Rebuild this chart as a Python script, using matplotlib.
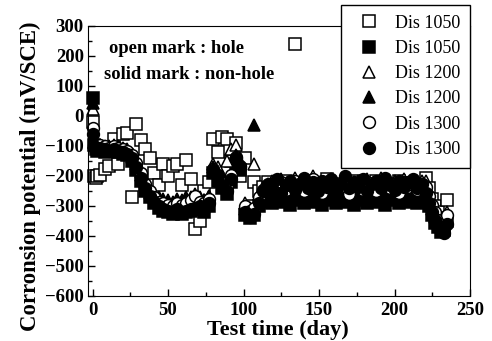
import matplotlib
matplotlib.use("Agg")
import matplotlib.pyplot as plt
from matplotlib.ticker import MultipleLocator

days = [0, 1, 2, 3, 5, 8, 11, 14, 17, 20, 23, 26, 29, 32, 35, 38, 41, 44, 47, 50,
        53, 56, 59, 62, 65, 68, 71, 74, 77, 80, 83, 86, 89, 92, 95, 98, 101, 104, 107,
        110, 113, 116, 119, 122, 125, 128, 131, 134, 137, 140, 143, 146, 149, 152, 155,
        158, 161, 164, 167, 170, 173, 176, 179, 182, 185, 188, 191, 194, 197, 200, 203,
        206, 209, 212, 215, 218,
        221, 223, 225, 227, 229, 231, 233, 235]

dis1050_hole = [-20, -200, -205, -200, -195, -175, -165, -75, -160, -60, -55, -270, -25, -80, -110,
                -140, -190, -230, -160, -200, -165, -160, -230, -145, -210, -375, -350, -250, -220, -75,
                -120, -70, -75, -150, -90, -200, -140, -300, -220,
                -250, -235, -220, -245, -225, -250, -215, -230, 240, -235, -255, -220, -240, -250,
                -230, -210, -245, -225, -240, -260, -230, -215, -240, -225, -255, -230, -215, -240,
                -250, -225, -235, -215, -245, -230, -225, -250, -230,
                -205, -240, -275, -300, -320, -340, -360, -280]

dis1050_nonhole = [60, -95, -110, -115, -110, -120, -115, -105, -120, -125, -130, -150, -180, -215, -250,
                   -270, -290, -305, -315, -320, -325, -315, -325, -320, -315, -310, -305, -320, -300, -190,
                   -215, -240, -260, -220, -160, -180, -330, -340, -330,
                   -300, -285, -270, -290, -260, -285, -275, -295, -265, -280, -290, -270, -285, -260,
                   -295, -275, -280, -290, -265, -285, -270, -295, -280, -260, -290, -275, -285, -270,
                   -295, -280, -265, -290, -275, -285, -270, -290, -280,
                   -265, -300, -330, -355, -370, -385, -380, -350]

dis1200_hole = [25, -85, -95, -100, -95, -100, -100, -95, -100, -105, -110, -125, -150, -185, -220,
                -245, -265, -280, -285, -290, -290, -280, -285, -280, -270, -260, -275, -280, -265, -160,
                -170, -200, -150, -110, -95, -150, -290, -305, -160,
                -260, -235, -225, -215, -230, -210, -235, -220, -205, -225, -240, -215, -200, -230,
                -245, -220, -210, -235, -225, -205, -250, -220, -215, -235, -210, -225, -240, -205,
                -220, -230, -215, -245, -210, -225, -220, -235, -215,
                -215, -250, -280, -310, -330, -350, -365, -320]

dis1200_nonhole = [45, -90, -100, -105, -100, -105, -110, -100, -110, -115, -120, -135, -160, -195, -230,
                   -255, -260, -270, -275, -280, -285, -275, -280, -270, -275, -265, -270, -280, -265, -170,
                   -190, -215, -240, -200, -130, -160, -310, -325, -30,
                   -280, -265, -245, -260, -235, -270, -250, -240, -265, -245, -255, -230, -260, -240,
                   -270, -250, -235, -260, -245, -225, -265, -240, -255, -235, -270, -245, -250, -230,
                   -265, -240, -255, -235, -260, -245, -230, -265, -250,
                   -250, -280, -310, -335, -355, -370, -380, -345]

dis1300_hole = [-40, -95, -100, -100, -95, -100, -105, -100, -105, -110, -115, -130, -155, -190, -225,
                -250, -270, -285, -290, -295, -300, -290, -295, -290, -280, -265, -285, -290, -275, -175,
                -195, -220, -235, -195, -135, -165, -300, -315, -305,
                -270, -245, -235, -225, -240, -220, -245, -230, -215, -235, -250, -225, -210, -240,
                -255, -230, -220, -245, -235, -215, -260, -230, -225, -245, -220, -235, -250, -215,
                -230, -240, -225, -255, -220, -235, -230, -245, -225,
                -235, -265, -295, -320, -345, -360, -370, -330]

dis1300_nonhole = [-60, -100, -105, -110, -105, -110, -115, -110, -115, -120, -125, -140, -170, -205, -240,
                   -265, -285, -300, -310, -315, -320, -310, -320, -315, -310, -305, -300, -310, -290, -180,
                   -200, -230, -250, -210, -140, -170, -320, -335, -325,
                   -290, -250, -225, -240, -210, -255, -230, -215, -245, -225, -205, -240, -220, -250,
                   -215, -235, -210, -245, -225, -200, -240, -220, -235, -210, -250, -225, -215, -240,
                   -205, -230, -245, -215, -235, -220, -210, -240, -225,
                   -255, -290, -320, -345, -365, -380, -390, -360]

labels = ["Dis 1050", "Dis 1050", "Dis 1200", "Dis 1200", "Dis 1300", "Dis 1300"]
x_ticks = [0, 50, 100, 150, 200, 250]
y_ticks = [300, 200, 100, 0, -100, -200, -300, -400, -500, -600]

plt.rcParams['font.family'] = ['Liberation Serif', 'DejaVu Serif']

fig = plt.figure(figsize=(4.92, 3.41), dpi=100)
ax = fig.add_axes([88/492, 1-296/341, 382/492, 270/341])

series = [
    (dis1050_hole, 's', 'white'),
    (dis1050_nonhole, 's', 'black'),
    (dis1200_hole, '^', 'white'),
    (dis1200_nonhole, '^', 'black'),
    (dis1300_hole, 'o', 'white'),
    (dis1300_nonhole, 'o', 'black'),
]
for (vals, mk, fc), lab in zip(series, labels):
    ax.plot(days, vals, linestyle='none', marker=mk, markersize=8.5,
            markerfacecolor=fc, markeredgecolor='black', markeredgewidth=1.1,
            label=lab, clip_on=False)

ax.set_xlim(-3, 250)
ax.set_ylim(-600, 300)
ax.set_xticks(x_ticks)
ax.set_yticks(y_ticks)
ax.xaxis.set_minor_locator(MultipleLocator(25))
ax.yaxis.set_minor_locator(MultipleLocator(50))
ax.tick_params(which='both', direction='in', top=False, right=False)
ax.tick_params(which='major', length=5, width=1)
ax.tick_params(which='minor', length=3, width=1)
for t in ax.get_xticklabels() + ax.get_yticklabels():
    t.set_fontweight('bold')
    t.set_fontsize(13.5)
ax.tick_params(axis='x', pad=4)
ax.tick_params(axis='y', pad=3)

fig.text(278/492, 1-330/341, "Test time (day)", fontsize=16, fontweight='bold',
         ha='center', va='center')
fig.text(30/492, 1-176/341, "Corronsion potential (mV/SCE)", fontsize=16.4,
         fontweight='bold', ha='center', va='center', rotation=90)

ax.text(0.055, 0.915, "open mark : hole", transform=ax.transAxes, fontsize=13.4,
        fontweight='bold', ha='left', va='center')
ax.text(0.042, 0.819, "solid mark : non-hole", transform=ax.transAxes, fontsize=13.4,
        fontweight='bold', ha='left', va='center')

leg = ax.legend(loc='lower right', bbox_to_anchor=(1.0, 0.474), borderaxespad=0,
                frameon=True, fancybox=False, framealpha=1, edgecolor='black',
                fontsize=13, labelspacing=0.46, borderpad=0.55, handlelength=2.0,
                handletextpad=0.44, numpoints=1)
leg.get_frame().set_linewidth(1.0)

fig.savefig("out.png", dpi=100)
